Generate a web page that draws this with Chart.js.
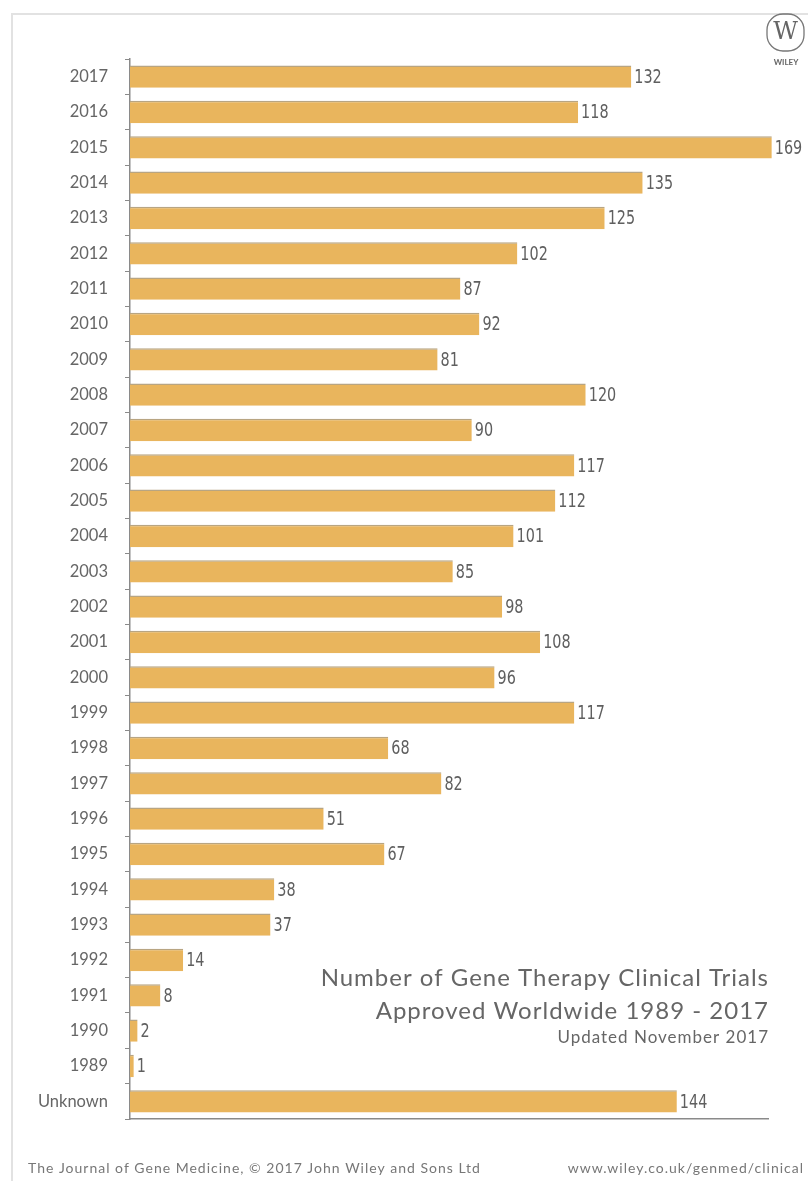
<!DOCTYPE html>
<html>
<head>
<meta charset="utf-8">
<script src="https://cdn.jsdelivr.net/npm/chart.js@4/dist/chart.umd.min.js"></script>
<style>
  html, body { margin: 0; padding: 0; background: #fff; }
  #wrap { position: relative; width: 808px; height: 1181px; }
</style>
</head>
<body>
<div id="wrap"><canvas id="trials" width="808" height="1181"></canvas></div>
<script>
const years = ['2017', '2016', '2015', '2014', '2013', '2012', '2011', '2010', '2009', '2008',
  '2007', '2006', '2005', '2004', '2003', '2002', '2001', '2000', '1999', '1998',
  '1997', '1996', '1995', '1994', '1993', '1992', '1991', '1990', '1989', 'Unknown']
const trials = [132, 118, 169, 135, 125, 102, 87, 92, 81, 120,
  90, 117, 112, 101, 85, 98, 108, 96, 117, 68,
  82, 51, 67, 38, 37, 14, 8, 2, 1, 144]
const titleLines = ['Number of Gene Therapy Clinical Trials', 'Approved Worldwide 1989 - 2017']
const updated = 'Updated November 2017'
const footerLeft = 'The Journal of Gene Medicine, \u00A9 2017 John Wiley and Sons Ltd'
const footerRight = 'www.wiley.co.uk/genmed/clinical'

const GOLD = '#e9b55d'
const GREY = '#5f5f5f'
const FUTURA = '"Lato", "Open Sans", sans-serif'
const NARROW = '"DejaVu Sans", sans-serif'

// value labels next to each bar, squeezed to look condensed
const valueLabels = {
  id: 'valueLabels',
  afterDatasetsDraw (chart) {
    const ctx = chart.ctx
    const meta = chart.getDatasetMeta(0)
    ctx.save()
    ctx.fillStyle = GREY
    ctx.font = '20px ' + NARROW
    ctx.textAlign = 'left'
    ctx.textBaseline = 'middle'
    meta.data.forEach((bar, i) => {
      ctx.save()
      ctx.translate(bar.x + 3, bar.y + 1)
      ctx.scale(0.72, 1)
      ctx.fillText(String(trials[i]), 0, 0)
      ctx.restore()
    })
    ctx.restore()
  }
}

// frame, title block, footer and logo
const decorations = {
  id: 'decorations',
  beforeDraw (chart) {
    const ctx = chart.ctx
    ctx.save()
    ctx.strokeStyle = '#e2e2e2'
    ctx.lineWidth = 2
    ctx.strokeRect(12, 14, 820, 1200)
    ctx.restore()
  },
  afterDraw (chart) {
    const ctx = chart.ctx
    const right = chart.chartArea.right
    ctx.save()
    ctx.fillStyle = '#666'
    ctx.textAlign = 'right'
    ctx.textBaseline = 'middle'
    ctx.letterSpacing = '1px'
    ctx.font = '24px ' + FUTURA
    ctx.fillText(titleLines[0], right + 1, 978)
    ctx.fillText(titleLines[1], right + 1, 1011)
    ctx.font = '17px ' + FUTURA
    ctx.fillText(updated, right + 1, 1038)

    ctx.font = '14px ' + FUTURA
    ctx.fillStyle = '#777'
    ctx.textAlign = 'left'
    ctx.fillText(footerLeft, 28, 1168)
    ctx.textAlign = 'right'
    ctx.fillText(footerRight, 804, 1168)
    ctx.letterSpacing = '0px'

    // wiley logo
    ctx.strokeStyle = '#777'
    ctx.lineWidth = 1.3
    ctx.beginPath()
    ctx.roundRect(767, 14, 37, 37, 16)
    ctx.stroke()
    ctx.fillStyle = '#666'
    ctx.textAlign = 'center'
    ctx.font = '24px "DejaVu Serif", serif'
    ctx.fillText('W', 785.5, 33)
    ctx.font = 'bold 8px ' + FUTURA
    ctx.fillText('WILEY', 786, 62)
    ctx.restore()
  }
}

new Chart(document.getElementById('trials'), {
  type: 'bar',
  data: {
    labels: years,
    datasets: [{
      data: trials,
      backgroundColor: GOLD,
      borderColor: '#b8a582',
      borderWidth: { top: 1.5, left: 0, right: 0, bottom: 0 },
      borderSkipped: false,
      barPercentage: 0.63,
      categoryPercentage: 1,
      clip: false
    }]
  },
  options: {
    indexAxis: 'y',
    responsive: false,
    animation: false,
    layout: { padding: { top: 59, right: 40, bottom: 62, left: 0 } },
    plugins: {
      legend: { display: false },
      tooltip: { enabled: false }
    },
    scales: {
      x: {
        min: 0,
        max: 168,
        ticks: { display: false },
        grid: { display: false, drawTicks: false },
        border: { display: true, color: '#8a8a8a', width: 1.5 },
        afterFit (scale) { scale.height = 0 }
      },
      y: {
        ticks: {
          color: '#666',
          padding: 17,
          font: { family: FUTURA, size: 16.5 }
        },
        grid: {
          offset: true,
          drawOnChartArea: false,
          tickLength: 5,
          color: '#8a8a8a'
        },
        border: { display: true, color: '#8a8a8a', width: 1.5 },
        afterFit (scale) { scale.width = 130 }
      }
    }
  },
  plugins: [valueLabels, decorations]
})
</script>
</body>
</html>
